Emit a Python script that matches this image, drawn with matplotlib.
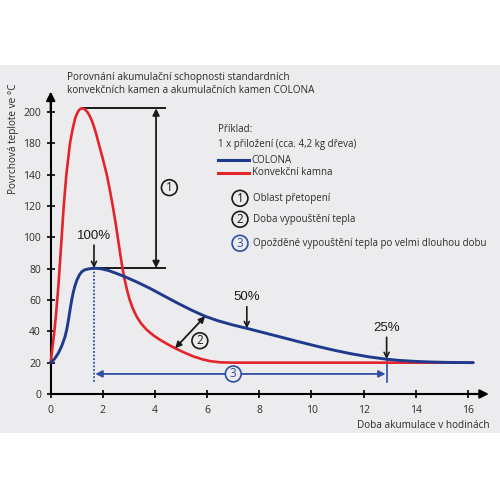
import matplotlib
matplotlib.use('Agg')
import matplotlib.pyplot as plt
from matplotlib.patches import Rectangle

# ---- data (axis units; the y labels in the original skip 160) ----
hours_red = [0, 0.07, 0.14, 0.2, 0.25, 0.3, 0.34, 0.38, 0.42, 0.46, 0.5, 0.55,
             0.6, 0.67, 0.74, 0.84, 0.93, 1.0, 1.07, 1.14, 1.21, 1.28, 1.35,
             1.42, 1.5, 1.58, 1.66, 1.74, 1.83, 2.0, 2.15, 2.27, 2.38, 2.48,
             2.57, 2.66, 2.75, 2.83, 2.92, 3.02, 3.15, 3.3, 3.48, 3.68, 3.93,
             4.19, 4.48, 4.77, 5.1, 5.47, 5.8, 6.1, 6.5, 7.0, 8.0, 10.0, 12.0,
             14.0, 16.2]
temp_red = [20, 30, 40, 50, 60, 70, 80, 90, 100, 110, 120, 130,
            140, 150, 160, 169, 175.5, 178.6, 180.8, 182.0, 182.3, 182.0, 181.0,
            179.6, 177.3, 174.3, 170.6, 166.2, 160.5, 150, 140, 130, 120, 110,
            100, 90, 80.5, 73.5, 66.8, 60.5, 54.5, 49.3, 44.7, 41.0, 37.5,
            34.6, 31.8, 29.2, 26.6, 24.0, 22.2, 21.0, 20.2, 20, 20, 20, 20,
            20, 20]
hours_blue = [0, 0.15, 0.29, 0.42, 0.55, 0.62, 0.68, 0.74, 0.8, 0.86, 0.93,
              1.0, 1.1, 1.19, 1.3, 1.44, 1.66, 1.9, 2.2, 2.5, 2.85, 3.3, 3.81,
              4.3, 4.83, 5.35, 5.92, 6.4, 6.95, 7.52, 8.2, 8.92, 9.55, 10.2,
              10.85, 11.48, 12.2, 12.88, 13.39, 14.0, 14.6, 15.3, 16.2]
temp_blue = [20, 22.5, 26, 30.5, 36.6, 41.5, 47.2, 53.5, 59.5, 64.5, 69,
             72.5, 76, 78, 79.2, 79.8, 80.3, 80, 78.9, 77.1, 74.8, 71.5, 67.4,
             63.0, 58.3, 53.9, 49.6, 46.8, 44.2, 41.9, 39.0, 35.9, 33.2, 30.5,
             28.0, 25.8, 23.7, 22.2, 21.4, 20.8, 20.4, 20.15, 20]
x_ticks = [0, 2, 4, 6, 8, 10, 12, 14, 16]
y_tick_pos = [0, 20, 40, 60, 80, 100, 120, 140, 160, 180]
y_tick_labels = ['0', '20', '40', '60', '80', '100', '120', '140', '180', '200']

title = 'Porovnání akumulační schopnosti standardních\nkonvekčních kamen a akumulačních kamen COLONA'
ylabel = 'Povrchová teplote ve °C'
xlabel = 'Doba akumulace v hodinách'
legend_head = ['Příklad:', '1 x přiložení (cca. 4,2 kg dřeva)']
series_names = ['COLONA', 'Konvekční kamna']
notes = ['Oblast přetopení', 'Doba vypouštění tepla',
         'Opožděné vypouštění tepla po velmi dlouhou dobu']

RED = '#e3242b'
BLUE = '#1f3a8c'
BLUE2 = '#2d4ea3'
TXT = '#2b2b2b'
BG = '#ececee'

plt.rcParams['font.family'] = ['Open Sans', 'DejaVu Sans']

fig = plt.figure(figsize=(5, 5), dpi=100)
fig.patch.set_facecolor('white')
fig.add_artist(Rectangle((0, 1 - 433 / 500), 1, (433 - 65) / 500,
                         transform=fig.transFigure, fc=BG, ec='none', zorder=-5))
ax = fig.add_axes([0, 0, 1, 1])
ax.set_facecolor('none')
PXX = 26.08
PXY = 1.567
ax.set_xlim(-50.7 / PXX, (500 - 50.7) / PXX)
ax.set_ylim(-(500 - 394) / PXY, 394 / PXY)


def P(px, py):
    return (px / 500, 1 - py / 500)


# axes
for s in ['top', 'right']:
    ax.spines[s].set_visible(False)
ax.spines['left'].set_position(('data', 0))
ax.spines['bottom'].set_position(('data', 0))
ax.spines['left'].set_bounds(0, 188)
ax.spines['bottom'].set_bounds(0, 16.5)
ax.spines['left'].set_linewidth(1.5)
ax.spines['bottom'].set_linewidth(1.5)
ax.annotate('', xy=(0, 193), xytext=(0, 180),
            arrowprops=dict(arrowstyle='-|>', color='black', lw=1.5,
                            mutation_scale=13, shrinkA=0, shrinkB=0))
ax.annotate('', xy=(16.8, 0), xytext=(16.0, 0),
            arrowprops=dict(arrowstyle='-|>', color='black', lw=1.5,
                            mutation_scale=13, shrinkA=0, shrinkB=0))
ax.set_xticks(x_ticks)
ax.set_xticklabels([str(t) for t in x_ticks])
ax.set_yticks(y_tick_pos)
ax.set_yticklabels(y_tick_labels)
ax.tick_params(axis='both', direction='inout', length=6, width=1.2,
               labelsize=7.5, labelcolor=TXT)
ax.tick_params(axis='x', pad=5)
ax.tick_params(axis='y', pad=4)

# curves
ax.plot(hours_red, temp_red, color=RED, lw=1.9, solid_capstyle='round',
        solid_joinstyle='round', zorder=3)
ax.plot(hours_blue, temp_blue, color=BLUE, lw=2.1, solid_capstyle='round',
        solid_joinstyle='round', zorder=4)

# annotation: overheating range
peak_i = temp_red.index(max(temp_red))
peak_x, peak_y = hours_red[peak_i], temp_red[peak_i]
bpk = temp_blue.index(max(temp_blue))
bx, by = hours_blue[bpk], temp_blue[bpk]
ax.plot([peak_x, 4.38], [peak_y, peak_y], color='#1a1a1a', lw=1.4, zorder=2)
ax.plot([bx, 4.38], [by, by], color='#1a1a1a', lw=1.4, zorder=2)
ax.annotate('', xy=(4.04, peak_y), xytext=(4.04, by),
            arrowprops=dict(arrowstyle='<|-|>', color='#1a1a1a', lw=1.3,
                            mutation_scale=10, shrinkA=0, shrinkB=0))

circ_kw = dict(ha='center', va='center', fontsize=8.5)


def circled(x, y, s, color, trans=None, fc=BG):
    kw = dict(circ_kw)
    if trans is not None:
        kw['transform'] = trans
    ax.text(x, y, s, color=color,
            bbox=dict(boxstyle='circle,pad=0.12', fc=fc, ec=color, lw=1.2), **kw)


circled(4.55, 131.7, '1', '#1a1a1a')

pct_font = ['Liberation Sans', 'DejaVu Sans']
# 100 %
ax.text(bx, 101, '100%', ha='center', va='center', fontsize=9.5,
        family=pct_font, color='#1a1a1a')
ax.annotate('', xy=(bx, by), xytext=(bx, 95),
            arrowprops=dict(arrowstyle='->', color='#1a1a1a', lw=1.2,
                            mutation_scale=9, shrinkA=0, shrinkB=0))
ax.plot([bx, bx], [by, 7.7], color=BLUE2, lw=1.3, ls=(0, (1, 1)), zorder=2)

# 50 %
ax.text(7.52, 62.1, '50%', ha='center', va='center', fontsize=9.5,
        family=pct_font, color='#1a1a1a')
ax.annotate('', xy=(7.52, 41.9), xytext=(7.52, 55.7),
            arrowprops=dict(arrowstyle='->', color='#1a1a1a', lw=1.2,
                            mutation_scale=9, shrinkA=0, shrinkB=0))
# 25 %
ax.text(12.88, 42.3, '25%', ha='center', va='center', fontsize=9.5,
        family=pct_font, color='#1a1a1a')
ax.annotate('', xy=(12.88, 22.2), xytext=(12.88, 36.2),
            arrowprops=dict(arrowstyle='->', color='#1a1a1a', lw=1.2,
                            mutation_scale=9, shrinkA=0, shrinkB=0))
ax.plot([12.88, 12.88], [21.7, 7.7], color=BLUE2, lw=1.2, zorder=2)

# 2: release time
ax.annotate('', xy=(5.92, 49.6), xytext=(4.77, 29.2),
            arrowprops=dict(arrowstyle='<|-|>', color='#1a1a1a', lw=1.3,
                            mutation_scale=9, shrinkA=0, shrinkB=0), zorder=5)
circled(5.72, 34, '2', '#1a1a1a')

# 3: delayed release
ax.annotate('', xy=(bx + 0.05, 12.8), xytext=(12.84, 12.8),
            arrowprops=dict(arrowstyle='<|-|>', color=BLUE2, lw=1.3,
                            mutation_scale=10, shrinkA=0, shrinkB=0))
circled(7.0, 12.8, '3', BLUE2)

# texts
ft = fig.transFigure
fig.text(*P(66.7, 80), title.split('\n')[0], fontsize=7.2, color=TXT, va='baseline')
fig.text(*P(66.7, 93), title.split('\n')[1], fontsize=7.2, color=TXT, va='baseline')
fig.text(*P(14, 138.5), ylabel, fontsize=7.2, color=TXT, rotation=90,
         ha='center', va='center')
fig.text(*P(490, 425), xlabel, fontsize=7.2, color=TXT, ha='right', va='center')

fig.text(*P(218.3, 130), legend_head[0], fontsize=7.0, color=TXT, va='center')
fig.text(*P(218.3, 144), legend_head[1], fontsize=7.0, color=TXT, va='center')
ax.plot([218.3 / 500, 249.3 / 500], [1 - 160 / 500] * 2, transform=ft,
        color=BLUE, lw=2.2, clip_on=False)
ax.plot([218.3 / 500, 249.3 / 500], [1 - 172.7 / 500] * 2, transform=ft,
        color=RED, lw=2.2, clip_on=False)
fig.text(*P(251.7, 160), series_names[0], fontsize=7.0, color=TXT, va='center')
fig.text(*P(251.7, 172.7), series_names[1], fontsize=7.0, color=TXT, va='center')

note_y = [198.3, 219.3, 243.3]
note_c = ['#1a1a1a', '#1a1a1a', BLUE2]
for i, (t, yy, c) in enumerate(zip(notes, note_y, note_c)):
    circled(240 / 500, 1 - yy / 500, str(i + 1), c, trans=ft)
    fig.text(*P(253.3, yy), t, fontsize=7.0, color=TXT, va='center')

fig.savefig('out.png', dpi=100, facecolor='white')
